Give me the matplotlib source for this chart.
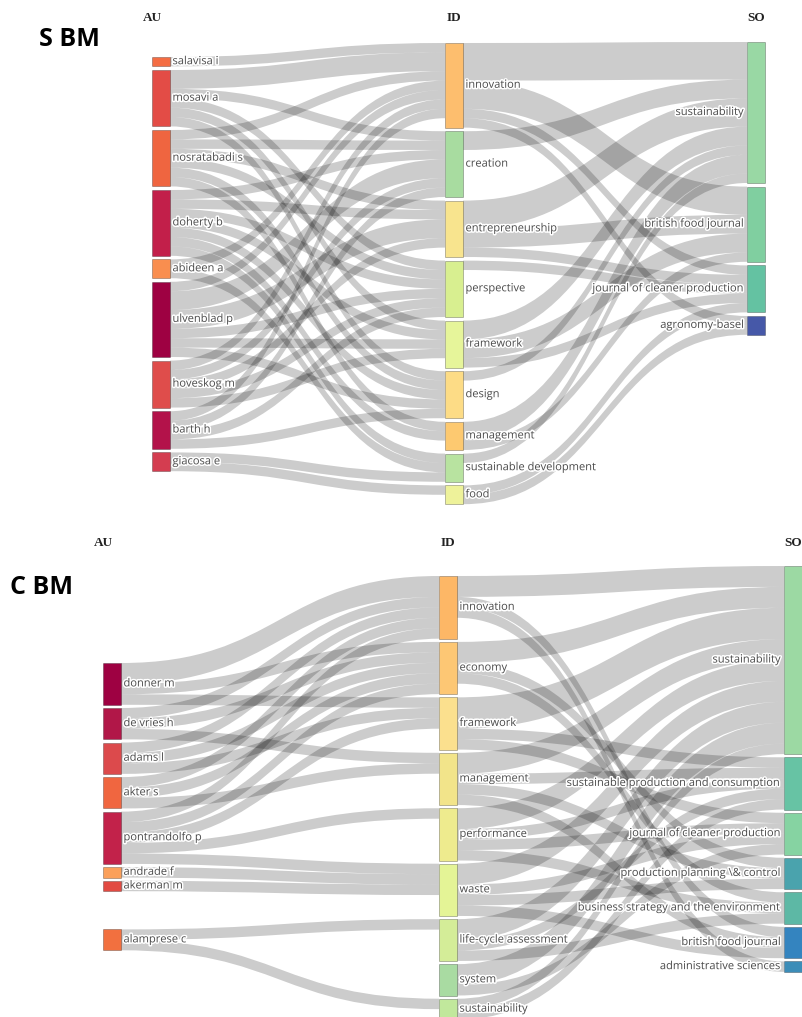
import matplotlib
matplotlib.use("Agg")
import matplotlib.pyplot as plt
from matplotlib.path import Path
from matplotlib.patches import PathPatch, Rectangle
import matplotlib.patheffects as pe

# ---------------- S BM (top) ----------------
S_AU = ["salavisa i", "mosavi a", "nosratabadi s", "doherty b", "abideen a",
        "ulvenblad p", "hoveskog m", "barth h", "giacosa e"]
S_AU_SIZE = [1, 6, 6, 7, 2, 8, 5, 4, 2]
S_AU_COL = ["#f46d43", "#e34c46", "#ef6540", "#c21f4a", "#f98e4f",
            "#9e0142", "#df4d4b", "#b3124a", "#d43d50"]

S_ID = ["innovation", "creation", "entrepreneurship", "perspective", "framework",
        "design", "management", "sustainable development", "food"]
S_ID_SIZE = [9, 7, 6, 6, 5, 5, 3, 3, 2]
S_ID_COL = ["#fdbe6e", "#a8dca0", "#f8e48e", "#d8ef90", "#e6f59a",
            "#fddc86", "#fdc970", "#b8e3a0", "#eef29a"]

S_SO = ["sustainability", "british food journal", "journal of cleaner production",
        "agronomy-basel"]
S_SO_SIZE = [15, 8, 5, 2]
S_SO_COL = ["#99d8a4", "#80cfa0", "#64c2a2", "#4658a8"]

S_AU_ID = [
    ("salavisa i", "innovation", 1),
    ("mosavi a", "innovation", 2), ("mosavi a", "creation", 1),
    ("mosavi a", "perspective", 1), ("mosavi a", "framework", 1), ("mosavi a", "design", 1),
    ("nosratabadi s", "innovation", 1), ("nosratabadi s", "creation", 1),
    ("nosratabadi s", "entrepreneurship", 1), ("nosratabadi s", "perspective", 1),
    ("nosratabadi s", "design", 1), ("nosratabadi s", "management", 1),
    ("doherty b", "creation", 1), ("doherty b", "entrepreneurship", 1),
    ("doherty b", "perspective", 1), ("doherty b", "framework", 1),
    ("doherty b", "design", 1), ("doherty b", "management", 1),
    ("doherty b", "sustainable development", 1),
    ("abideen a", "innovation", 1), ("abideen a", "sustainable development", 1),
    ("ulvenblad p", "innovation", 1), ("ulvenblad p", "creation", 2),
    ("ulvenblad p", "entrepreneurship", 2), ("ulvenblad p", "perspective", 1),
    ("ulvenblad p", "framework", 1), ("ulvenblad p", "design", 1),
    ("hoveskog m", "innovation", 1), ("hoveskog m", "creation", 1),
    ("hoveskog m", "entrepreneurship", 1), ("hoveskog m", "perspective", 1),
    ("hoveskog m", "framework", 1),
    ("barth h", "innovation", 1), ("barth h", "creation", 1),
    ("barth h", "perspective", 1), ("barth h", "design", 1),
    ("giacosa e", "sustainable development", 1), ("giacosa e", "food", 1),
]

S_ID_SO = [
    ("innovation", "sustainability", 4), ("innovation", "british food journal", 3),
    ("innovation", "journal of cleaner production", 1), ("innovation", "agronomy-basel", 1),
    ("creation", "sustainability", 2),
    ("entrepreneurship", "sustainability", 3), ("entrepreneurship", "british food journal", 2),
    ("entrepreneurship", "journal of cleaner production", 1),
    ("perspective", "journal of cleaner production", 1),
    ("framework", "sustainability", 2), ("framework", "british food journal", 2),
    ("framework", "journal of cleaner production", 1),
    ("design", "sustainability", 1),
    ("management", "sustainability", 2), ("management", "british food journal", 1),
    ("sustainable development", "sustainability", 1),
    ("food", "journal of cleaner production", 1), ("food", "agronomy-basel", 1),
]

# ---------------- C BM (bottom) ----------------
C_AU = ["donner m", "de vries h", "adams l", "akter s", "pontrandolfo p",
        "andrade f", "akerman m", "alamprese c"]
C_AU_SIZE = [4, 3, 3, 3, 5, 1, 1, 2]
C_AU_COL = ["#9e0142", "#b11748", "#dc4a4c", "#f06640", "#c2224a",
            "#fba05a", "#e24a42", "#f2703f"]

C_ID = ["innovation", "economy", "framework", "management", "performance",
        "waste", "life-cycle assessment", "system", "sustainability"]
C_ID_SIZE = [6, 5, 5, 5, 5, 5, 4, 3, 2]
C_ID_COL = ["#fdb766", "#fdc774", "#fbe08e", "#f2e48a", "#eeeb8e",
            "#e4f496", "#d4ed98", "#a9dba2", "#c1e89c"]

C_SO = ["sustainability", "sustainable production and consumption",
        "journal of cleaner production", "production planning \\& control",
        "business strategy and the environment", "british food journal",
        "administrative sciences"]
C_SO_SIZE = [18, 5, 4, 3, 3, 3, 1]
C_SO_COL = ["#9cd9a3", "#67c3a4", "#86d3a2", "#4aa3ad", "#5db8a5", "#3484bf", "#3c8db8"]

C_AU_ID = [
    ("donner m", "innovation", 2), ("donner m", "economy", 1), ("donner m", "framework", 1),
    ("de vries h", "innovation", 1), ("de vries h", "economy", 1), ("de vries h", "management", 1),
    ("adams l", "innovation", 1), ("adams l", "economy", 1), ("adams l", "framework", 1),
    ("akter s", "innovation", 1), ("akter s", "economy", 1), ("akter s", "management", 1),
    ("pontrandolfo p", "innovation", 1), ("pontrandolfo p", "economy", 1),
    ("pontrandolfo p", "framework", 1), ("pontrandolfo p", "performance", 1),
    ("pontrandolfo p", "waste", 1),
    ("andrade f", "waste", 1), ("akerman m", "waste", 1),
    ("alamprese c", "life-cycle assessment", 1), ("alamprese c", "sustainability", 1),
]

C_ID_SO = [
    ("innovation", "sustainability", 2), ("innovation", "british food journal", 1),
    ("innovation", "administrative sciences", 1),
    ("economy", "sustainability", 2), ("economy", "production planning \\& control", 1),
    ("economy", "business strategy and the environment", 1),
    ("framework", "sustainability", 3), ("framework", "sustainable production and consumption", 1),
    ("framework", "journal of cleaner production", 1),
    ("management", "sustainability", 2), ("management", "sustainable production and consumption", 1),
    ("management", "production planning \\& control", 1), ("management", "british food journal", 1),
    ("performance", "sustainability", 2), ("performance", "sustainable production and consumption", 1),
    ("performance", "journal of cleaner production", 1),
    ("performance", "business strategy and the environment", 1),
    ("waste", "sustainability", 2), ("waste", "journal of cleaner production", 1),
    ("waste", "production planning \\& control", 1), ("waste", "british food journal", 1),
    ("life-cycle assessment", "sustainability", 2),
    ("life-cycle assessment", "sustainable production and consumption", 1),
    ("life-cycle assessment", "business strategy and the environment", 1),
    ("system", "sustainability", 2), ("system", "journal of cleaner production", 1),
    ("sustainability", "sustainability", 1),
    ("sustainability", "sustainable production and consumption", 1),
]

W, H = 802, 1017
NODE_W = 18
LINK_COL = (0, 0, 0, 0.2)
TXT_COL = "#4a4a4a"
HALO = [pe.withStroke(linewidth=2.2, foreground="white")]


def place(sizes, top, scale, gap, extra=None):
    ys, y = [], top
    for i, s in enumerate(sizes):
        if extra and i in extra:
            y += extra[i]
        ys.append(y)
        y += s * scale + gap
    return ys


def draw_links(ax, links, src, tgt, src_y, tgt_y, xs, xt, scale):
    si = {n: i for i, n in enumerate(src)}
    ti = {n: i for i, n in enumerate(tgt)}
    start, end = {}, {}
    off = [0.0] * len(src)
    for l in sorted(links, key=lambda l: (si[l[0]], ti[l[1]])):
        start[l] = src_y[si[l[0]]] + off[si[l[0]]]
        off[si[l[0]]] += l[2] * scale
    off = [0.0] * len(tgt)
    for l in sorted(links, key=lambda l: (ti[l[1]], si[l[0]])):
        end[l] = tgt_y[ti[l[1]]] + off[ti[l[1]]]
        off[ti[l[1]]] += l[2] * scale
    xm = (xs + xt) / 2
    for l in links:
        y0, y1, w = start[l], end[l], l[2] * scale
        verts = [(xs, y0), (xm, y0), (xm, y1), (xt, y1),
                 (xt, y1 + w), (xm, y1 + w), (xm, y0 + w), (xs, y0 + w), (xs, y0)]
        codes = [Path.MOVETO, Path.CURVE4, Path.CURVE4, Path.CURVE4,
                 Path.LINETO, Path.CURVE4, Path.CURVE4, Path.CURVE4, Path.CLOSEPOLY]
        ax.add_patch(PathPatch(Path(verts, codes), facecolor=LINK_COL,
                               edgecolor="none", zorder=1))


def draw_nodes(ax, names, sizes, cols, ys, x, scale, side):
    for n, s, c, y in zip(names, sizes, cols, ys):
        ax.add_patch(Rectangle((x, y), NODE_W, s * scale, facecolor=c,
                               edgecolor=(0, 0, 0, 0.3), linewidth=0.6, zorder=3))
        yc = y + s * scale / 2
        if side == "right":
            ax.text(x + NODE_W + 2.5, yc, n, ha="left", va="center", fontsize=8.0,
                    color=TXT_COL, family="Open Sans", path_effects=HALO, zorder=4)
        else:
            ax.text(x - 2.5, yc, n, ha="right", va="center", fontsize=8.0,
                    color=TXT_COL, family="Open Sans", path_effects=HALO, zorder=4)


def panel(ax, title, title_xy, cols_x, tops, head_y, scale, gap, au_extra,
          au, au_s, au_c, idn, id_s, id_c, so, so_s, so_c, l1, l2):
    xa, xi, xo = cols_x
    ya = place(au_s, tops[0], scale, gap, au_extra)
    yi = place(id_s, tops[1], scale, gap)
    yo = place(so_s, tops[2], scale, gap)
    draw_links(ax, l1, au, idn, ya, yi, xa + NODE_W, xi, scale)
    draw_links(ax, l2, idn, so, yi, yo, xi + NODE_W, xo, scale)
    draw_nodes(ax, au, au_s, au_c, ya, xa, scale, "right")
    draw_nodes(ax, idn, id_s, id_c, yi, xi, scale, "right")
    draw_nodes(ax, so, so_s, so_c, yo, xo, scale, "left")
    for lab, x in zip(["AU", "ID", "SO"], [xa, xi + NODE_W / 2, xo + NODE_W / 2]):
        ax.text(x, head_y, lab, ha="center", va="center", fontsize=9.5,
                fontweight="bold", family="Liberation Serif", color="#222222")
    ax.text(title_xy[0], title_xy[1], title, ha="center", va="center",
            fontsize=18, fontweight="bold", family="Open Sans", color="black")


fig = plt.figure(figsize=(W / 100, H / 100), dpi=100)
ax = fig.add_axes([0, 0, 1, 1])
ax.set_xlim(0, W)
ax.set_ylim(H, 0)
ax.axis("off")

panel(ax, "S BM", (69, 39), (152, 445, 747), (57, 43, 42), 18, 9.4, 3.6, None,
      S_AU, S_AU_SIZE, S_AU_COL, S_ID, S_ID_SIZE, S_ID_COL,
      S_SO, S_SO_SIZE, S_SO_COL, S_AU_ID, S_ID_SO)
panel(ax, "C BM", (42, 588), (103, 439, 784), (663, 576, 566), 542.5, 10.45, 3.2, {7: 35},
      C_AU, C_AU_SIZE, C_AU_COL, C_ID, C_ID_SIZE, C_ID_COL,
      C_SO, C_SO_SIZE, C_SO_COL, C_AU_ID, C_ID_SO)

fig.savefig("out.png", dpi=100)
